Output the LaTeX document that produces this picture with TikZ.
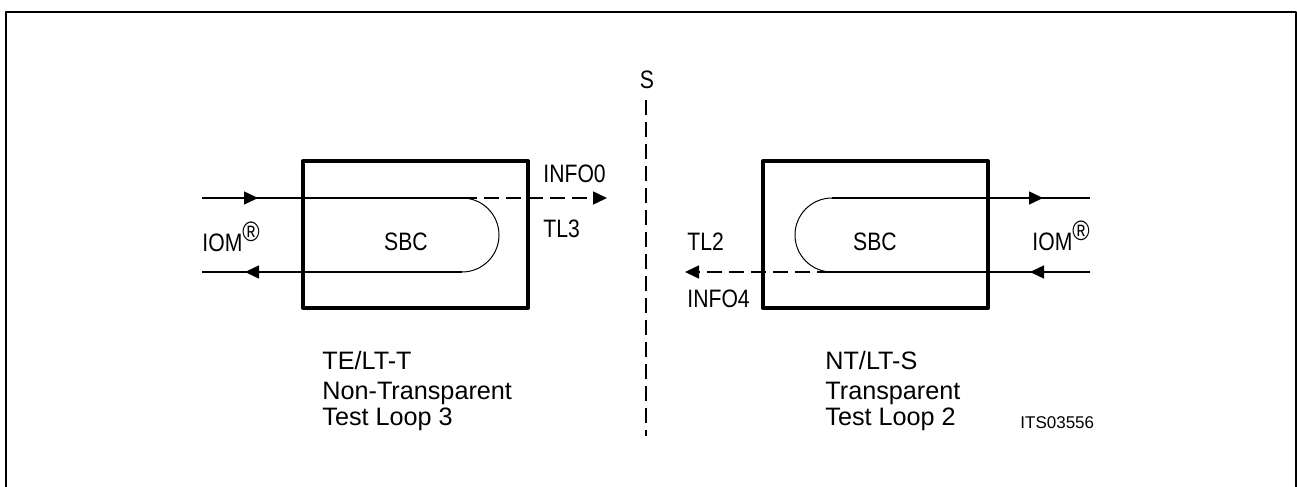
\documentclass[tikz,border=0pt]{standalone}
\usepackage{fontspec}
\setmainfont{Liberation Sans}
\newfontfamily\narrowsans[FakeStretch=0.84]{Liberation Sans}
\usetikzlibrary{arrows.meta}

\begin{document}
\begin{tikzpicture}[
    x=0.5pt, y=-0.5pt,
    line join=round,
    % 字体与样式
    every node/.style={font=\fontsize{12.6}{14}\selectfont, inner sep=0pt},
    caps/.style={font=\fontsize{12.6}{14}\narrowsans},
    sbcbox/.style={draw, line width=2pt, minimum width=112.5pt, minimum height=73.5pt},
    sig/.style={line width=0.75pt},
    loopline/.style={line width=0.5pt},
    dashline/.style={line width=0.75pt, dash pattern=on 7.5pt off 3.5pt},
    arrowtip/.style={-{Triangle[length=7pt,width=6.5pt]}},
]
\useasboundingbox (0,0) rectangle (1297,487);

% ---- 外框 ----
\draw[line width=1pt] (6,490) -- (6,12) -- (1296,12) -- (1296,490);

% ---- 接口 S ----
\node[caps, anchor=base] (S) at (647,88) {S};
\coordinate (Stop) at (646,100);
\coordinate (Sbot) at (646,436);
\draw[dashline] (Stop) -- (Sbot);

% ---- 左侧：TL3 ----
\node[sbcbox] (boxL) at (415.5,234.5) {};
\node[caps, anchor=base] (sbcL) at (406,250) {SBC};

\coordinate (Lin) at (202,198);
\coordinate (Lout) at (202,272);
\coordinate (Ltop) at (462,198);
\coordinate (Lbot) at (462,272);
\coordinate (Linfo) at (607,198);

\draw[sig] (Lin) -- (Ltop);
\draw[sig] (Lbot) -- (Lout);
\draw[loopline] (Ltop) arc[start angle=-90, end angle=90, radius=37];
\draw[sig, arrowtip] (Lin) -- (258,198);
\draw[sig, arrowtip] (Lbot) -- (245,272);
\draw[dashline, arrowtip] (Ltop) -- (Linfo);

\node[caps, anchor=base west] (info0) at (543,182) {INFO0};
\node[caps, anchor=base west] (tl3) at (543,237) {TL3};
\node[caps, anchor=base west] (iomL) at (202,251) {IOM\raisebox{5pt}{\fontsize{14}{14}\selectfont\textregistered}};

\node[anchor=base west] (teL1) at (322,369) {TE/LT-T};
\node[anchor=base west] (teL2) at (322,399) {Non-Transparent};
\node[anchor=base west] (teL3) at (322,425) {Test Loop 3};

% ---- 右侧：TL2 ----
\node[sbcbox] (boxR) at (875.5,234.5) {};
\node[caps, anchor=base] (sbcR) at (875,250) {SBC};

\coordinate (Rtop) at (832,198);
\coordinate (Rbot) at (832,272);
\coordinate (Rout) at (1090,198);
\coordinate (Rin) at (1090,272);
\coordinate (Rinfo) at (685,272);

\draw[sig] (Rtop) -- (Rout);
\draw[sig] (Rin) -- (Rbot);
\draw[loopline] (Rtop) arc[start angle=-90, end angle=-270, radius=37];
\draw[sig, arrowtip] (Rtop) -- (1043,198);
\draw[sig, arrowtip] (Rin) -- (1030,272);
\draw[dashline, arrowtip] (Rbot) -- (Rinfo);

\node[caps, anchor=base west] (tl2) at (687,250) {TL2};
\node[caps, anchor=base west] (info4) at (687,307) {INFO4};
\node[caps, anchor=base west] (iomR) at (1032,250) {IOM\raisebox{5pt}{\fontsize{14}{14}\selectfont\textregistered}};

\node[anchor=base west] (ntR1) at (825,369) {NT/LT-S};
\node[anchor=base west] (ntR2) at (825,399) {Transparent};
\node[anchor=base west] (ntR3) at (825,425) {Test Loop 2};

\node[anchor=base west, font=\fontsize{8.5}{10}\selectfont] (its) at (1020,428) {ITS03556};

\end{tikzpicture}
\end{document}
